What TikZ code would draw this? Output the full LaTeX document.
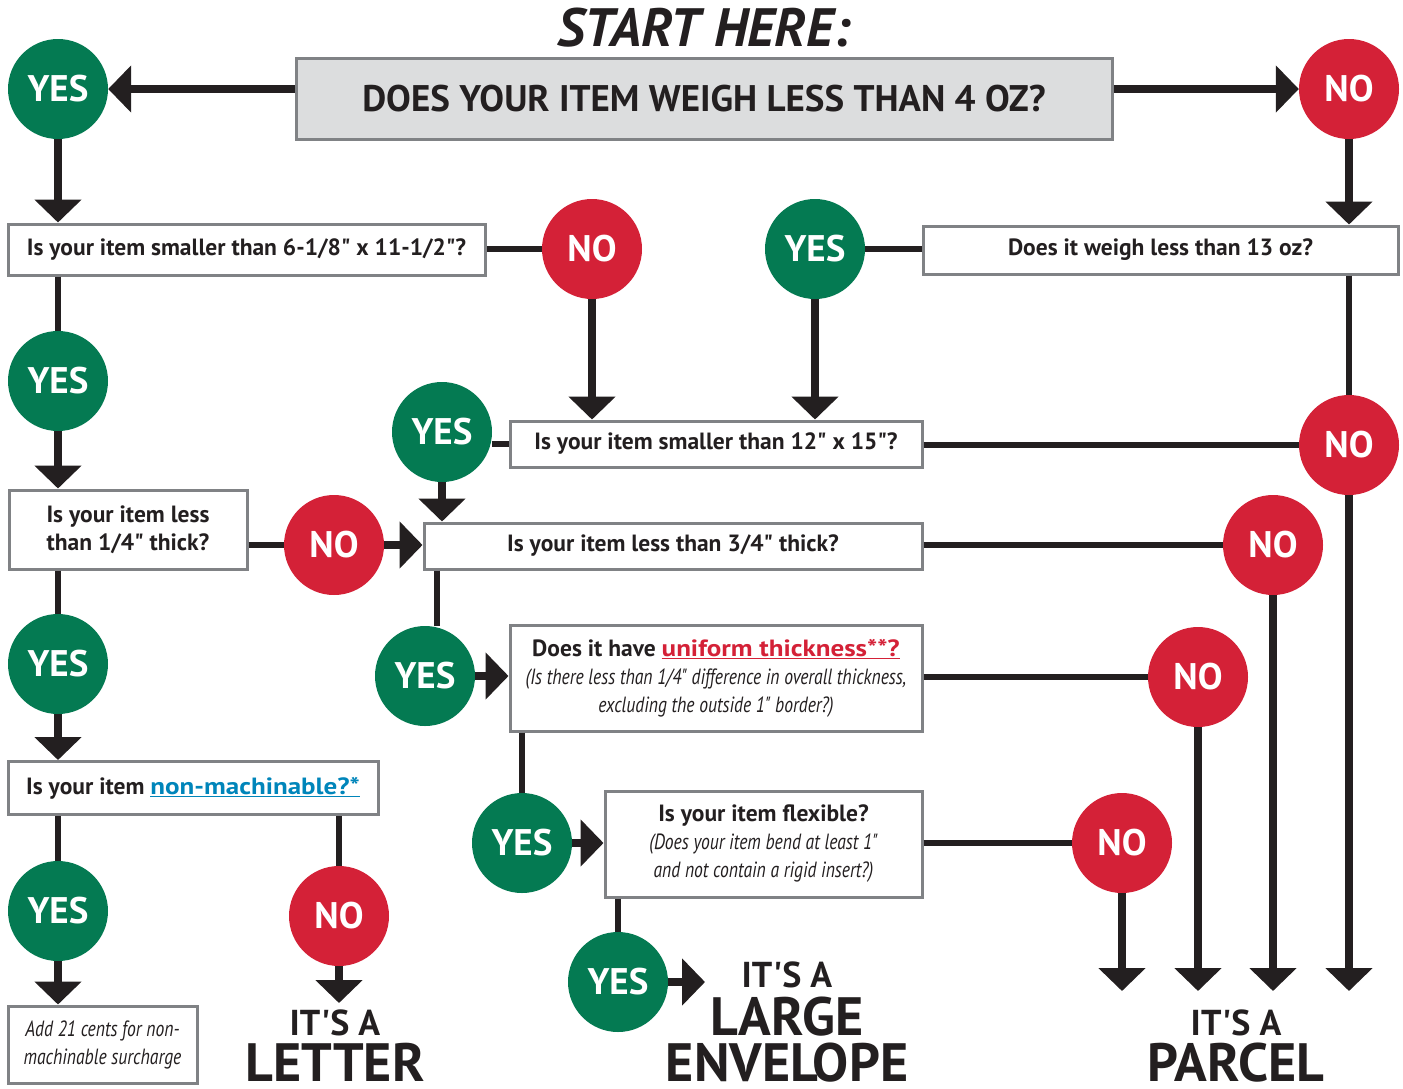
\documentclass[tikz,border=0pt]{standalone}
\usepackage{fontspec}
\setmainfont{PT Sans}[Ligatures=TeXOff]
\usepackage{graphicx}
\usetikzlibrary{arrows.meta}
\definecolor{yesgreen}{RGB}{4,122,82}
\definecolor{nored}{RGB}{212,33,55}
\definecolor{ink}{RGB}{35,31,32}
\definecolor{boxgray}{RGB}{128,130,133}
\definecolor{boxfill}{RGB}{220,221,222}
\definecolor{linkblue}{RGB}{0,133,186}
\newcommand{\notefont}{\mdseries\itshape\fontsize{22}{27}\selectfont}
\newcommand{\squeeze}[1]{{\notefont\scalebox{0.8}[1]{#1}}}
\newcommand{\wide}[2]{\textcolor{#1}{\scalebox{1.15}[1]{\underline{#2}}}}

\begin{document}
\begin{tikzpicture}[x=1pt, y=-1pt,
	yesdot/.style={circle, fill=yesgreen, minimum size=100pt, inner sep=0pt, text=white, font=\bfseries\fontsize{37}{37}\selectfont},
	nodot/.style={yesdot, fill=nored},
	qbox/.style={draw=boxgray, line width=3pt, fill=white, text=ink, inner sep=0pt, align=center, font=\bfseries\fontsize{23.5}{28}\selectfont},
	go/.style={draw=ink, line width=8pt, -{Triangle[length=23pt, width=46pt]}},
	link/.style={draw=ink, line width=5.5pt},
	endtext/.style={text=ink, anchor=base, inner sep=0pt, font=\bfseries\fontsize{54}{54}\selectfont},
	itsa/.style={endtext, font=\bfseries\fontsize{36}{36}\selectfont}]
	\useasboundingbox (0,0) rectangle (1403,1088);

	\node (start) [text=ink, anchor=base, inner sep=0pt, font=\bfseries\itshape\fontsize{54}{54}\selectfont] at (704,46) {START HERE:};
	\node (q1) [qbox, fill=boxfill, minimum width=816pt, minimum height=81pt, font=\bfseries\fontsize{37}{37}\selectfont] at (704,98.5) {DOES YOUR ITEM WEIGH LESS THAN 4 OZ?};
	\node (q2) [qbox, minimum width=477pt, minimum height=51pt] at (246.5,249.5) {Is your item smaller than 6-1/8" x 11-1/2"?};
	\node (q3) [qbox, minimum width=475pt, minimum height=48pt] at (1160.5,250) {Does it weigh less than 13 oz?};
	\node (q4) [qbox, minimum width=412pt, minimum height=46pt] at (716,444) {Is your item smaller than 12" x 15"?};
	\node (q5) [qbox, minimum width=238pt, minimum height=79pt] at (128,529.5) {Is your item less\\than 1/4" thick?};
	\node (q6) [qbox, minimum width=498pt, minimum height=46pt] at (673,546) {Is your item less than 3/4" thick?};
	\node (q7) [qbox, minimum width=370pt, minimum height=53pt] at (193,788) {Is your item \wide{linkblue}{non-machinable?*}};
	\node (q8) [qbox, minimum width=412pt, minimum height=106pt] at (716,678) {Does it have \wide{nored}{uniform thickness**?}\\
		\squeeze{(Is there less than 1/4" difference in overall thickness,}\\
		\squeeze{excluding the outside 1" border?)}};
	\node (q9) [qbox, minimum width=317pt, minimum height=106pt] at (763.5,844) {Is your item flexible?\\
		\squeeze{(Does your item bend at least 1"}\\
		\squeeze{and not contain a rigid insert?)}};
	\node (q10) [qbox, minimum width=189pt, minimum height=77pt] at (102.5,1044.5) {\squeeze{Add 21 cents for non-}\\
		\squeeze{machinable surcharge}};

	\node (y1) [yesdot] at (58,89) {YES};
	\node (n1) [nodot] at (1349,89) {NO};
	\node (n2) [nodot] at (592,249) {NO};
	\node (y2) [yesdot] at (815,249) {YES};
	\node (y3) [yesdot] at (58,381) {YES};
	\node (y4) [yesdot] at (442,432) {YES};
	\node (n3) [nodot] at (1349,445) {NO};
	\node (n4) [nodot] at (334,545) {NO};
	\node (n5) [nodot] at (1273,545) {NO};
	\node (y5) [yesdot] at (58,664) {YES};
	\node (y6) [yesdot] at (425,676) {YES};
	\node (n6) [nodot] at (1198,677) {NO};
	\node (y7) [yesdot] at (522,843) {YES};
	\node (n7) [nodot] at (1122,843) {NO};
	\node (y8) [yesdot] at (58,911) {YES};
	\node (n8) [nodot] at (339,916) {NO};
	\node (y9) [yesdot] at (618,982) {YES};

	\node (letter1) [itsa] at (335,1035) {IT'S A};
	\node (letter2) [endtext] at (335,1081) {LETTER};
	\node (large1) [itsa] at (787,987) {IT'S A};
	\node (large2) [endtext] at (787,1035) {LARGE};
	\node (large3) [endtext] at (787,1081) {ENVELOPE};
	\node (parcel1) [itsa] at (1236,1035) {IT'S A};
	\node (parcel2) [endtext] at (1236,1081) {PARCEL};

	\coordinate (parcelend) at (0,991);
	\coordinate (letterend) at (0,1003);
	\coordinate (envend) at (705,0);

	\draw [go] (q1.west |- y1) -- (y1.east);
	\draw [go] (q1.east |- n1) -- (n1.west);
	\draw [go] (y1.south) -- (y1 |- q2.north);
	\draw [go] (n1.south) -- (n1 |- q3.north);
	\draw [link] (q2.east |- n2) -- (n2.west);
	\draw [link] (y2.east) -- (q3.west |- y2);
	\draw [go] (n2.south) -- (n2 |- q4.north);
	\draw [go] (y2.south) -- (y2 |- q4.north);
	\draw [link] (q2.south -| y3) -- (y3.north);
	\draw [go] (y3.south) -- (y3 |- q5.north);
	\draw [link] (q3.south -| n3) -- (n3.north);
	\draw [link] (q4.east |- n3) -- (n3.west);
	\draw [link] (q4.west) -- (q4.west -| y4.east);
	\draw [go] (y4.south) -- (y4 |- q6.north);
	\draw [link] (q5.east |- n4) -- (n4.west);
	\draw [go] (n4.east) -- (q6.west |- n4);
	\draw [link] (q6.east |- n5) -- (n5.west);
	\draw [link] (q5.south -| y5) -- (y5.north);
	\draw [go] (y5.south) -- (y5 |- q7.north);
	\draw [link] ([xshift=12pt]y6.north |- q6.south) -- ([xshift=12pt]y6.north);
	\draw [go] (y6.east) -- (q8.west |- y6);
	\draw [link] (q8.east |- n6) -- (n6.west);
	\draw [link] (q8.south -| y7) -- (y7.north);
	\draw [go] (y7.east) -- (q9.west |- y7);
	\draw [link] (q9.east |- n7) -- (n7.west);
	\draw [link] (q9.south -| y9) -- (y9.north);
	\draw [go] (y9.east) -- (y9 -| envend);
	\draw [link] (q7.south -| y8) -- (y8.north);
	\draw [go] (y8.south) -- (y8 |- q10.north);
	\draw [link] (q7.south -| n8) -- (n8.north);
	\draw [go] (n8.south) -- (n8 |- letterend);
	\draw [go] (n7.south) -- (n7 |- parcelend);
	\draw [go] (n6.south) -- (n6 |- parcelend);
	\draw [go] (n5.south) -- (n5 |- parcelend);
	\draw [go] (n3.south) -- (n3 |- parcelend);
\end{tikzpicture}
\end{document}
